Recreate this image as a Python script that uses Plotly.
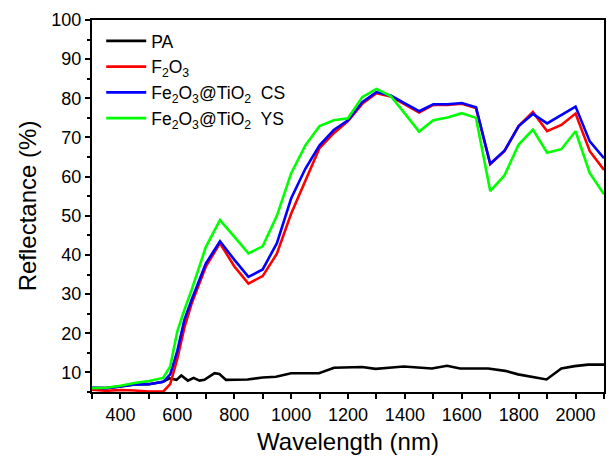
import plotly.graph_objects as go

wl = [300, 350, 400, 450, 500, 550, 575, 600, 625, 650, 700, 750, 800, 850, 900, 950,
      1000, 1050, 1100, 1150, 1200, 1250, 1300, 1350, 1400, 1450, 1500, 1550, 1600,
      1650, 1700, 1750, 1800, 1850, 1900, 1950, 2000, 2050, 2100]

red_f2o3 = [5.6, 5.3, 5.5, 5.4, 5.1, 5.1, 7.0, 13.5, 21.5, 27.5, 37.0, 43.0, 37.1, 32.7, 34.6, 40.3,
            50.5, 58.8, 67.3, 71.1, 74.2, 78.6, 81.3, 80.5, 78.5, 76.4, 78.3, 78.3, 78.6,
            77.5, 63.2, 66.5, 72.9, 76.5, 71.6, 73.2, 76.1, 66.5, 61.7]

blue_cs = [6.1, 6.0, 6.4, 6.9, 7.0, 7.6, 9.5, 15.5, 23.5, 28.5, 37.8, 43.5, 38.8, 34.4, 36.3, 43.0,
           54.4, 62.0, 68.0, 71.9, 74.4, 79.0, 81.6, 80.7, 78.7, 76.7, 78.5, 78.5, 78.8,
           77.7, 63.3, 66.6, 72.9, 76.0, 73.6, 75.8, 77.9, 69.0, 64.7]

green_ys = [6.0, 6.1, 6.6, 7.3, 7.8, 8.6, 11.5, 20.5, 26.0, 31.0, 42.0, 48.9, 44.7, 40.4, 42.2, 50.0,
            60.8, 68.0, 72.9, 74.4, 74.9, 80.3, 82.4, 80.6, 76.1, 71.5, 74.4, 75.1, 76.2,
            75.0, 56.3, 60.3, 68.2, 72.0, 66.1, 67.0, 71.6, 60.9, 55.5]

pa_wl = [300, 350, 400, 450, 500, 550, 572, 597, 614, 637, 657, 678, 695, 731, 748, 771,
         847, 900, 947, 1000, 1098, 1151, 1250, 1297, 1344, 1396, 1495, 1548, 1594,
         1693, 1752, 1798, 1898, 1950, 1997, 2044, 2100]
pa = [6.0, 6.0, 6.4, 6.9, 7.0, 7.6, 8.5, 8.1, 9.2, 7.9, 8.6, 7.9, 8.1, 9.8, 9.6, 8.1,
      8.2, 8.7, 8.9, 9.8, 9.8, 11.2, 11.4, 10.9, 11.2, 11.5, 11.0, 11.7, 11.0,
      11.0, 10.4, 9.5, 8.2, 11.0, 11.6, 12.0, 12.0]

names = ["PA", "F<sub>2</sub>O<sub>3</sub>",
         "Fe<sub>2</sub>O<sub>3</sub>@TiO<sub>2</sub>  CS",
         "Fe<sub>2</sub>O<sub>3</sub>@TiO<sub>2</sub>  YS"]
colors = ["#000000", "#ff0000", "#0000ff", "#00ff00"]

fig = go.Figure()
series = [(pa_wl, pa), (wl, red_f2o3), (wl, blue_cs), (wl, green_ys)]
for (x, y), n, c in zip(series, names, colors):
    fig.add_trace(go.Scatter(x=x, y=y, mode="lines", name=n,
                             line=dict(color=c, width=2.6)))

font_family = "Liberation Sans, Arial, sans-serif"
fig.update_layout(
    width=616, height=461,
    margin=dict(l=92, r=10, t=18, b=67),
    paper_bgcolor="white", plot_bgcolor="white",
    font=dict(family=font_family, color="black"),
    showlegend=True,
    legend=dict(x=0.018, y=0.992, xanchor="left", yanchor="top",
                bgcolor="rgba(0,0,0,0)", font=dict(size=17.5, family=font_family),
                tracegroupgap=0, itemwidth=40),
)
fig.update_xaxes(
    range=[300, 2100], showgrid=False, zeroline=False,
    showline=True, linewidth=2, linecolor="black", mirror=True,
    ticks="outside", ticklen=5, tickwidth=2, tickcolor="black",
    tick0=400, dtick=200,
    minor=dict(ticks="outside", dtick=100, tick0=300, ticklen=5, tickwidth=2, tickcolor="black"),
    tickfont=dict(size=18),
    title=dict(text="Wavelength (nm)", font=dict(size=24), standoff=10),
)
fig.update_yaxes(
    range=[5, 100], showgrid=False, zeroline=False,
    showline=True, linewidth=2, linecolor="black", mirror=True,
    ticks="outside", ticklen=5, tickwidth=2, tickcolor="black",
    tick0=10, dtick=10,
    minor=dict(ticks="outside", dtick=5, tick0=5, ticklen=3, tickwidth=2, tickcolor="black"),
    tickfont=dict(size=18),
    title=dict(text="Reflectance (%)", font=dict(size=24), standoff=8),
)
fig.write_html("out.html",
               config={"displayModeBar": False},
               post_script="document.body.style.margin='0px';document.body.style.overflow='hidden';")
